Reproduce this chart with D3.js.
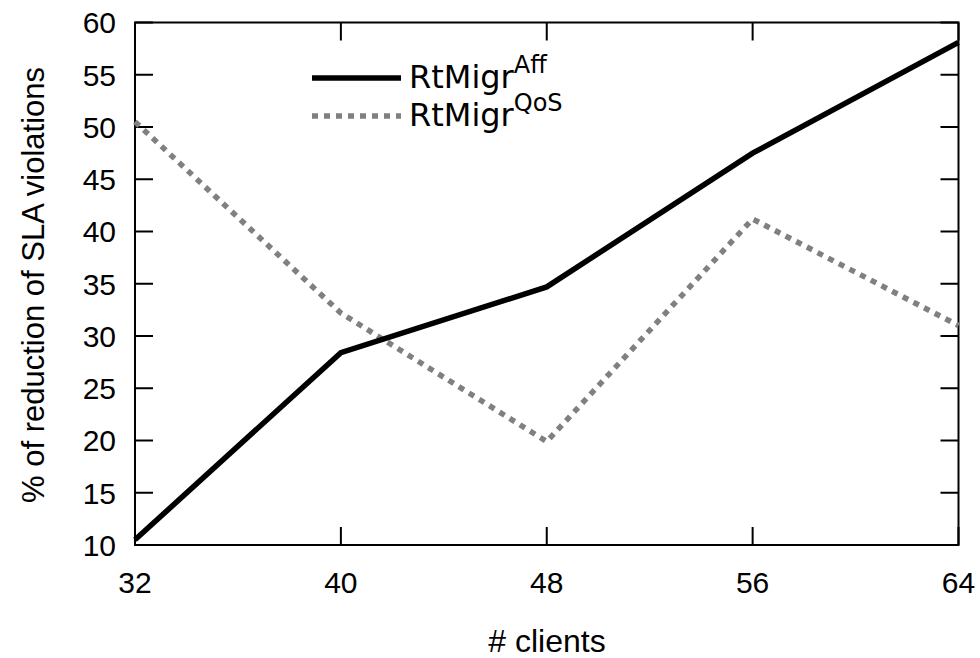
<!DOCTYPE html>
<html>
<head>
<meta charset="utf-8">
<script src="https://cdn.jsdelivr.net/npm/d3@7"></script>
<style>
  html, body { margin: 0; padding: 0; background: #fff; }
  svg { display: block; }
</style>
</head>
<body>
<svg id="chart" width="980" height="658"></svg>
<script>
const clients = [32, 40, 48, 56, 64];
const affValues = [10.5, 28.4, 34.7, 47.5, 58.1];
const qosValues = [50.5, 32.2, 19.9, 41.2, 31.0];
const yTicks = [10, 15, 20, 25, 30, 35, 40, 45, 50, 55, 60];
const seriesNames = ["Aff", "QoS"];

const svg = d3.select("#chart");
const m = { left: 135, right: 958.5, top: 22.5, bottom: 545 };

const x = d3.scaleLinear().domain([32, 64]).range([m.left, m.right]);
const y = d3.scaleLinear().domain([10, 60]).range([m.bottom, m.top]);

const tickFont = "'Liberation Sans', Arial, sans-serif";
const tickLen = 18;

// frame
svg.append("rect")
  .attr("x", m.left).attr("y", m.top)
  .attr("width", m.right - m.left).attr("height", m.bottom - m.top)
  .attr("fill", "none").attr("stroke", "#000").attr("stroke-width", 2);

// y ticks (inward on left and right)
const yg = svg.append("g");
yTicks.forEach(t => {
  yg.append("line").attr("x1", m.left).attr("x2", m.left + tickLen)
    .attr("y1", y(t)).attr("y2", y(t)).attr("stroke", "#000").attr("stroke-width", 2);
  yg.append("line").attr("x1", m.right - tickLen).attr("x2", m.right)
    .attr("y1", y(t)).attr("y2", y(t)).attr("stroke", "#000").attr("stroke-width", 2);
  yg.append("text").attr("x", 116).attr("y", y(t))
    .attr("dy", "0.36em").attr("text-anchor", "end")
    .attr("font-family", tickFont).attr("font-size", 30).text(t);
});

// x ticks (inward on bottom and top)
const xg = svg.append("g");
clients.forEach(c => {
  xg.append("line").attr("x1", x(c)).attr("x2", x(c))
    .attr("y1", m.bottom).attr("y2", m.bottom - tickLen).attr("stroke", "#000").attr("stroke-width", 2);
  xg.append("line").attr("x1", x(c)).attr("x2", x(c))
    .attr("y1", m.top).attr("y2", m.top + tickLen).attr("stroke", "#000").attr("stroke-width", 2);
  xg.append("text").attr("x", x(c)).attr("y", 593)
    .attr("text-anchor", "middle")
    .attr("font-family", tickFont).attr("font-size", 30).text(c);
});

// axis titles
svg.append("text").attr("x", 547).attr("y", 652).attr("text-anchor", "middle")
  .attr("font-family", tickFont).attr("font-size", 32).text("# clients");
svg.append("text")
  .attr("transform", `translate(44, 285) rotate(-90)`)
  .attr("text-anchor", "middle")
  .attr("font-family", tickFont).attr("font-size", 31)
  .text("% of reduction of SLA violations");

// lines
const line = d3.line().x((d, i) => x(clients[i])).y(d => y(d));
svg.append("path").datum(qosValues).attr("d", line)
  .attr("fill", "none").attr("stroke", "#808080").attr("stroke-width", 5.5)
  .attr("stroke-dasharray", "6,6");
svg.append("path").datum(affValues).attr("d", line)
  .attr("fill", "none").attr("stroke", "#000").attr("stroke-width", 5.5)
  .attr("stroke-linejoin", "miter");

// legend
const legFont = "'DejaVu Sans', sans-serif";
const legend = [
  { name: seriesNames[0], color: "#000", dash: null, y: 78 },
  { name: seriesNames[1], color: "#808080", dash: "6,6", y: 116 }
];
legend.forEach(l => {
  const ln = svg.append("line").attr("x1", 312).attr("x2", 401)
    .attr("y1", l.y).attr("y2", l.y)
    .attr("stroke", l.color).attr("stroke-width", 5.5);
  if (l.dash) ln.attr("stroke-dasharray", l.dash);
  const t = svg.append("text").attr("x", 409).attr("y", l.y + 10)
    .attr("font-family", legFont).attr("font-size", 32);
  t.append("tspan").text("RtMigr");
  t.append("tspan").attr("dy", -15).attr("font-size", 24).text(l.name);
});
</script>
</body>
</html>
